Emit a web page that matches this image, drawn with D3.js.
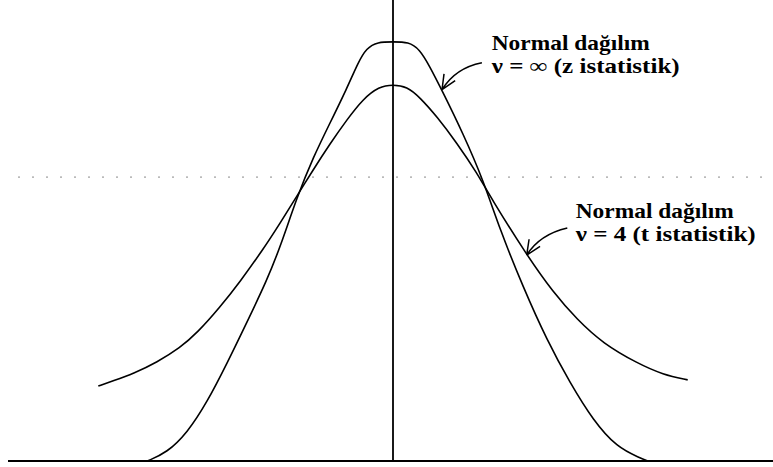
<!DOCTYPE html>
<html>
<head>
<meta charset="utf-8">
<script src="https://cdn.jsdelivr.net/npm/d3@7"></script>
<style>
  body { margin: 0; background: #fff; }
  svg { display: block; }
</style>
</head>
<body>
<svg id="chart"></svg>
<script>
// normal curve (v = inf)
const normalCurve = [
  [-3.51, 0], [-3.23, 0.008], [-2.94, 0.027], [-2.66, 0.056], [-2.37, 0.094],
  [-2.09, 0.133], [-1.8, 0.174], [-1.61, 0.206], [-1.37, 0.254], [-1.14, 0.292],
  [-0.9, 0.325], [-0.66, 0.358], [-0.5, 0.383], [-0.38, 0.397], [-0.22, 0.403],
  [0, 0.403], [0.22, 0.403], [0.38, 0.396], [0.52, 0.38], [0.71, 0.355], [1.0, 0.315],
  [1.29, 0.27], [1.53, 0.222], [1.86, 0.167], [2.2, 0.116], [2.53, 0.075],
  [2.86, 0.039], [3.2, 0.013], [3.53, 0.003], [3.64, 0]
];
// t curve (v = 4)
const tCurve = [
  [-4.21, 0.072], [-4.0, 0.077], [-3.71, 0.084], [-3.37, 0.095], [-3.04, 0.109],
  [-2.8, 0.123], [-2.47, 0.148], [-2.19, 0.172], [-1.86, 0.203], [-1.61, 0.229],
  [-1.37, 0.255], [-1.15, 0.279], [-0.9, 0.305], [-0.66, 0.328], [-0.43, 0.348],
  [-0.2, 0.36], [0, 0.362], [0.2, 0.36], [0.38, 0.35], [0.63, 0.331],
  [0.91, 0.306], [1.2, 0.277], [1.39, 0.254], [1.91, 0.198], [2.29, 0.162],
  [2.63, 0.136], [3.0, 0.113], [3.49, 0.094], [3.86, 0.083], [4.21, 0.078]
];
const labelLines = [
  ["Normal dağılım", "ν = ∞ (z istatistik)"],
  ["Normal dağılım", "ν = 4 (t istatistik)"]
];
const labelAnchors = [[1.41, 0.395], [2.61, 0.234]];
// arrows: tail, bend, tip
const arrows = [
  [[1.27, 0.383], [0.89, 0.378], [0.7, 0.357]],
  [[2.49, 0.224], [2.1, 0.218], [1.91, 0.198]]
];
const dottedLevel = 0.273;

const width = 773, height = 467;
const svg = d3.select("#chart").attr("width", width).attr("height", height);

const x = d3.scaleLinear().domain([-5.5, 5.5]).range([8, 778]);
const y = d3.scaleLinear().domain([0, 0.4]).range([461, 45]);

// faint dotted line
svg.append("line")
  .attr("x1", 18).attr("x2", 770)
  .attr("y1", y(dottedLevel)).attr("y2", y(dottedLevel))
  .style("stroke", "#888")
  .style("stroke-width", 1)
  .style("stroke-dasharray", "2,12");

// baseline
svg.append("line")
  .attr("x1", 8).attr("x2", width)
  .attr("y1", y(0)).attr("y2", y(0))
  .style("stroke", "#000")
  .style("stroke-width", 2);

// center line
svg.append("line")
  .attr("x1", x(0)).attr("x2", x(0))
  .attr("y1", 0).attr("y2", y(0))
  .style("stroke", "#000")
  .style("stroke-width", 1.8);

const line = d3.line()
  .x((d) => x(d[0]))
  .y((d) => y(d[1]))
  .curve(d3.curveBasis);

svg.selectAll(".curve")
  .data([normalCurve, tCurve])
  .join("path")
  .attr("class", "curve")
  .attr("d", line)
  .style("fill", "none")
  .style("stroke", "#000")
  .style("stroke-width", 1.6);

// arrows
arrows.forEach((a) => {
  const [t0, c, t1] = a.map((p) => [x(p[0]), y(p[1])]);
  const p = d3.path();
  p.moveTo(t0[0], t0[1]);
  p.quadraticCurveTo(c[0], c[1], t1[0], t1[1]);
  const ang = Math.atan2(c[1] - t1[1], c[0] - t1[0]);
  const len = 16;
  [-0.42, 0.42].forEach((da) => {
    p.moveTo(t1[0], t1[1]);
    p.lineTo(t1[0] + len * Math.cos(ang + da), t1[1] + len * Math.sin(ang + da));
  });
  svg.append("path")
    .attr("d", p.toString())
    .style("fill", "none")
    .style("stroke", "#000")
    .style("stroke-width", 1.5);
});

// labels
const lineWidths = [[158, 188], [158, 180]];
labelLines.forEach((lines, i) => {
  const g = svg.append("text")
    .attr("x", x(labelAnchors[i][0]))
    .attr("y", y(labelAnchors[i][1]))
    .style("font-family", "'Liberation Serif', serif")
    .style("font-weight", "bold")
    .style("font-size", "21px")
    .style("fill", "#000");
  lines.forEach((t, j) => {
    g.append("tspan")
      .attr("x", x(labelAnchors[i][0]))
      .attr("dy", j === 0 ? 0 : 23)
      .attr("textLength", lineWidths[i][j])
      .attr("lengthAdjust", "spacingAndGlyphs")
      .text(t);
  });
});
</script>
</body>
</html>
